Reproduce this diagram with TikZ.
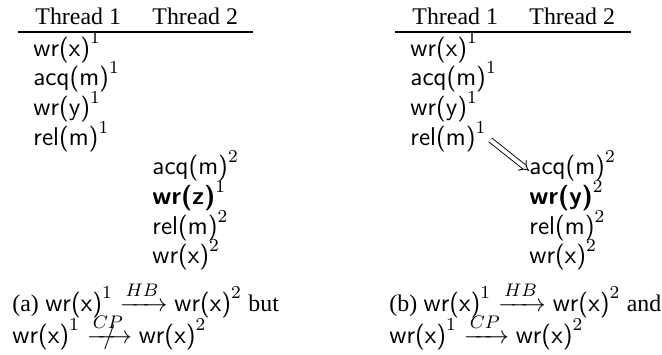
\documentclass[tikz,border=0pt]{standalone}
\usepackage{amsmath}
\usepackage{fontspec}
\setmainfont{Liberation Serif}
\usetikzlibrary{arrows.meta}
\newcommand{\sersize}{\fontsize{10.5}{12}\selectfont}
\newcommand{\sansize}{\fontsize{11.3}{13}\selectfont}
\newcommand{\op}[2]{$\textsf{#1}^{#2}$}
\newcommand{\bop}[2]{$\textsf{\bfseries #1}^{#2}$}
\newcommand{\ncp}{\mathrel{\ooalign{$\xrightarrow{CP}$\cr\hidewidth$/$\hidewidth\cr}}}
\begin{document}
\begin{tikzpicture}[x=0.44pt,y=-0.44pt,
  txt/.style={inner sep=0pt,anchor=base west,font=\sansize},
  head/.style={inner sep=0pt,anchor=base west,font=\sersize},
  rule/.style={line width=0.5pt},
  sync/.style={double,double distance=1.7pt,line width=0.4pt,-{Implies}}]
\useasboundingbox (0,0) rectangle (662,354);
% ---- (a)
\node[head] (ha1) at (35,24) {Thread 1};
\node[head] (ha2) at (152,24) {Thread 2};
\coordinate (la1) at (18,32); \coordinate (la2) at (253,32);
\draw[rule] (la1) -- (la2);
\node[txt] (a1) at (33,56) {\op{wr(x)}{1}};
\node[txt] (a2) at (33,85.7) {\op{acq(m)}{1}};
\node[txt] (a3) at (33,115.4) {\op{wr(y)}{1}};
\node[txt] (a4) at (33,145.1) {\op{rel(m)}{1}};
\node[txt] (a5) at (152,174.8) {\op{acq(m)}{2}};
\node[txt] (a6) at (152,204.5) {\bop{wr(z)}{1}};
\node[txt] (a7) at (152,234.2) {\op{rel(m)}{2}};
\node[txt] (a8) at (152,263.9) {\op{wr(x)}{2}};
\node[txt] (ca1) at (12,311) {{\sersize (a)} $\textsf{wr(x)}^1\xrightarrow{HB}\textsf{wr(x)}^2$ {\sersize but}};
\node[txt] (ca2) at (12,343) {$\textsf{wr(x)}^1\ncp\textsf{wr(x)}^2$};
% ---- (b)
\node[head] (hb1) at (412,24) {Thread 1};
\node[head] (hb2) at (529,24) {Thread 2};
\coordinate (lb1) at (395,32); \coordinate (lb2) at (631,32);
\draw[rule] (lb1) -- (lb2);
\node[txt] (b1) at (410,56) {\op{wr(x)}{1}};
\node[txt] (b2) at (410,85.7) {\op{acq(m)}{1}};
\node[txt] (b3) at (410,115.4) {\op{wr(y)}{1}};
\node[txt] (b4) at (410,145.1) {\op{rel(m)}{1}};
\node[txt] (b5) at (529,174.8) {\op{acq(m)}{2}};
\node[txt] (b6) at (529,204.5) {\bop{wr(y)}{2}};
\node[txt] (b7) at (529,234.2) {\op{rel(m)}{2}};
\node[txt] (b8) at (529,263.9) {\op{wr(x)}{2}};
\draw[sync] ([xshift=1.5pt,yshift=-1.5pt]b4.east) -- ([yshift=-2pt]b5.west);
\node[txt] (cb1) at (389,311) {{\sersize (b)} $\textsf{wr(x)}^1\xrightarrow{HB}\textsf{wr(x)}^2$ {\sersize and}};
\node[txt] (cb2) at (389,343) {$\textsf{wr(x)}^1\xrightarrow{CP}\textsf{wr(x)}^2$};
\end{tikzpicture}
\end{document}
